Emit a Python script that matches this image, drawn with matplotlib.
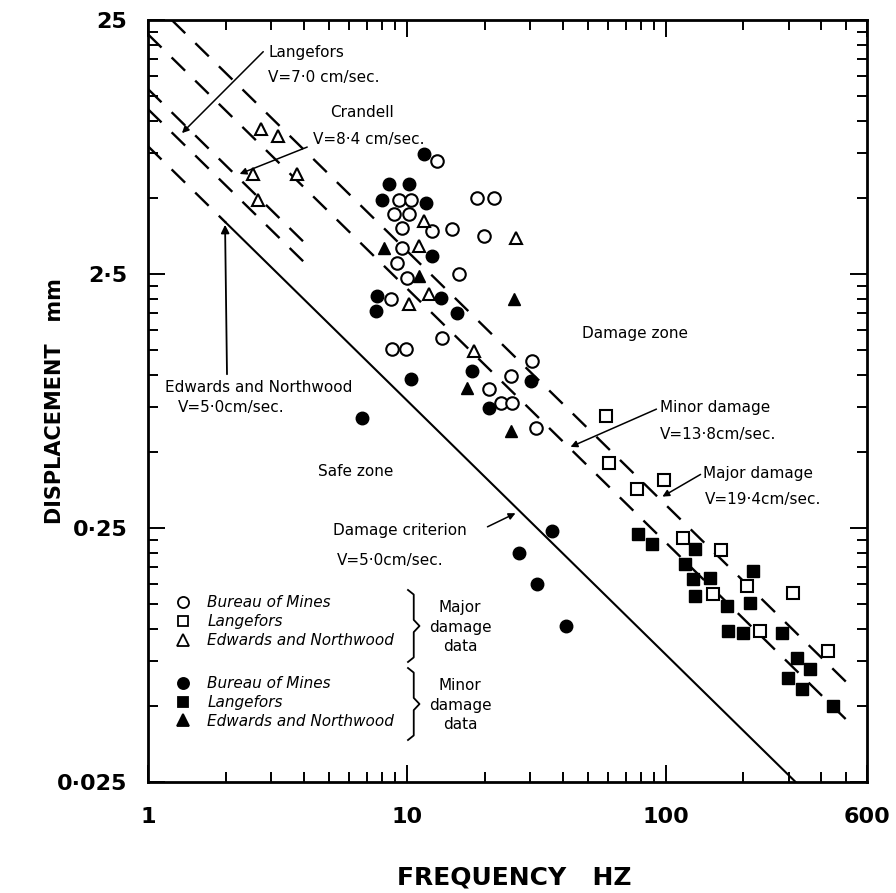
import matplotlib
matplotlib.use("Agg")
import matplotlib.pyplot as plt
from matplotlib.ticker import FixedLocator, FixedFormatter, NullFormatter
from matplotlib.lines import Line2D

# Major damage data (open symbols)
bom_major_f = [13.07, 9.31, 10.36, 18.68, 21.74, 8.91, 10.18, 9.56, 12.50, 14.94, 19.88,
               9.56, 9.15, 10.0, 15.90, 8.67, 13.67, 8.75, 9.91, 25.30, 30.52, 20.79,
               23.13, 25.53, 31.62]
bom_major_d = [6.96, 4.89, 4.89, 4.98, 4.98, 4.31, 4.31, 3.79, 3.69, 3.76, 3.53,
               3.16, 2.76, 2.41, 2.50, 1.99, 1.40, 1.27, 1.27, 0.99, 1.14, 0.881,
               0.776, 0.776, 0.619]
lang_major_f = [59.06, 60.66, 77.2, 98.2, 116.4, 163.4, 152.1, 206.1, 310.6, 231.4, 424.6]
lang_major_d = [0.690, 0.451, 0.356, 0.386, 0.228, 0.205, 0.137, 0.148, 0.139, 0.0983, 0.0820]
en_major_f = [2.74, 3.19, 2.55, 3.75, 2.67, 11.64, 11.13, 26.45, 12.17, 10.18, 18.19]
en_major_d = [9.31, 8.74, 6.19, 6.19, 4.89, 4.04, 3.22, 3.46, 2.09, 1.91, 1.24]

# Minor damage data (filled symbols)
bom_minor_f = [11.64, 8.52, 10.18, 8.00, 11.85, 12.50, 7.65, 7.58, 13.55, 15.62, 10.36,
               17.86, 20.79, 30.25, 6.69, 36.48, 27.17, 31.91, 41.34]
bom_minor_d = [7.42, 5.65, 5.65, 4.89, 4.76, 2.94, 2.05, 1.79, 2.02, 1.76, 0.965,
               1.04, 0.742, 0.948, 0.678, 0.243, 0.199, 0.150, 0.103]
lang_minor_f = [77.9, 88.3, 129.6, 118.5, 217.4, 127.3, 148.1, 129.6, 211.7, 172.4,
                174.0, 198.8, 281.6, 322.0, 361.5, 297.1, 336.6, 444.0]
lang_minor_d = [0.237, 0.216, 0.207, 0.180, 0.169, 0.157, 0.159, 0.135, 0.127, 0.123,
                0.0983, 0.0965, 0.0965, 0.0770, 0.0697, 0.0642, 0.0581, 0.0498]
en_minor_f = [8.15, 11.13, 25.98, 17.08, 25.30]
en_minor_d = [3.16, 2.45, 1.99, 0.889, 0.602]

# velocity lines (end points)
major_line_f = [1.235, 507]
major_line_d = [25.0, 0.0609]
minor_line_f = [1.0, 541]
minor_line_d = [21.96, 0.0406]
crandell_f = [1.0, 4.0]
crandell_d = [13.37, 3.34]
langefors_f = [1.0, 4.0]
langefors_d = [11.14, 2.79]
edwards_f = [1.0, 2.0]
edwards_d = [7.96, 3.98]
criterion_f = [2.0, 318]
criterion_d = [3.98, 0.025]

x_ticks = [1, 10, 100, 600]
x_ticklabels = ["1", "10", "100", "600"]
y_ticks = [0.025, 0.25, 2.5, 25]
y_ticklabels = ["0·025", "0·25", "2·5", "25"]

fig = plt.figure(figsize=(8.96, 8.93), dpi=100)
ax = fig.add_axes([0.1652, 0.1243, 0.8024, 0.8533])
ax.set_xscale("log")
ax.set_yscale("log")
ax.set_xlim(1, 600)
ax.set_ylim(0.025, 25)

dash = (0, (8, 6))
for fx, dy in [(major_line_f, major_line_d), (minor_line_f, minor_line_d),
               (crandell_f, crandell_d), (langefors_f, langefors_d),
               (edwards_f, edwards_d)]:
    ax.plot(fx, dy, color="black", lw=1.7, linestyle=dash)
ax.plot(criterion_f, criterion_d, color="black", lw=1.5)

ms = 9
ax.plot(bom_major_f, bom_major_d, "o", ms=ms, mfc="white", mec="black", mew=1.5, ls="none")
ax.plot(lang_major_f, lang_major_d, "s", ms=8, mfc="white", mec="black", mew=1.5, ls="none")
ax.plot(en_major_f, en_major_d, "^", ms=ms, mfc="white", mec="black", mew=1.5, ls="none")
ax.plot(bom_minor_f, bom_minor_d, "o", ms=ms, color="black", ls="none")
ax.plot(lang_minor_f, lang_minor_d, "s", ms=8, color="black", ls="none")
ax.plot(en_minor_f, en_minor_d, "^", ms=ms, color="black", ls="none")

# ticks
ax.xaxis.set_major_locator(FixedLocator(x_ticks))
ax.xaxis.set_major_formatter(FixedFormatter(x_ticklabels))
ax.xaxis.set_minor_locator(FixedLocator([2, 3, 4, 5, 6, 7, 8, 9, 20, 30, 40, 50, 60, 70, 80, 90,
                                         200, 300, 400, 500]))
ax.xaxis.set_minor_formatter(NullFormatter())
ax.yaxis.set_major_locator(FixedLocator(y_ticks))
ax.yaxis.set_major_formatter(FixedFormatter(y_ticklabels))
subs = [0.5, 0.75, 1.0, 1.25, 1.5, 1.75, 2.0, 2.25]
ax.yaxis.set_minor_locator(FixedLocator([s * 10.0 ** e for e in (-2, -1, 0, 1) for s in subs]))
ax.yaxis.set_minor_formatter(NullFormatter())
ax.tick_params(which="both", direction="in", top=True, right=True, width=1.4)
ax.tick_params(which="major", length=12, labelsize=16)
ax.tick_params(axis="x", which="major", pad=18)
ax.tick_params(axis="y", which="major", pad=15)
ax.tick_params(which="minor", length=7)
for lab in ax.get_xticklabels() + ax.get_yticklabels():
    lab.set_fontweight("bold")
for sp in ax.spines.values():
    sp.set_linewidth(2)

ax.set_xlabel("FREQUENCY   HZ", fontsize=18, fontweight="bold")
ax.xaxis.set_label_coords(0.51, -0.125)
ax.xaxis.label.set_va("center")
ax.set_ylabel("DISPLACEMENT   mm", fontsize=15, fontweight="bold")
ax.yaxis.set_label_coords(-0.115, 0.5)

# annotations
fs = 11
af = "axes fraction"
ax.text(0.167, 0.957, "Langefors", fontsize=fs, transform=ax.transAxes, va="center")
ax.text(0.167, 0.925, "V=7·0 cm/sec.", fontsize=fs, transform=ax.transAxes, va="center")
ax.annotate("", xy=(0.0445, 0.849), xytext=(0.163, 0.961), xycoords=af, textcoords=af,
            arrowprops=dict(arrowstyle="-|>", color="black", lw=1.1, mutation_scale=10))
ax.text(0.253, 0.879, "Crandell", fontsize=fs, transform=ax.transAxes, va="center")
ax.text(0.229, 0.843, "V=8·4 cm/sec.", fontsize=fs, transform=ax.transAxes, va="center")
ax.annotate("", xy=(0.1238, 0.7966), xytext=(0.225, 0.8346), xycoords=af, textcoords=af,
            arrowprops=dict(arrowstyle="-|>", color="black", lw=1.1, mutation_scale=10))
ax.text(0.0236, 0.518, "Edwards and Northwood", fontsize=fs, transform=ax.transAxes, va="center")
ax.text(0.0417, 0.492, "V=5·0cm/sec.", fontsize=fs, transform=ax.transAxes, va="center")
ax.annotate("", xy=(0.1071, 0.7349), xytext=(0.1099, 0.5315), xycoords=af, textcoords=af,
            arrowprops=dict(arrowstyle="-|>", color="black", lw=1.3, mutation_scale=12))
ax.text(0.2893, 0.408, "Safe zone", fontsize=fs, transform=ax.transAxes, va="center", ha="center")
ax.text(0.2573, 0.3307, "Damage criterion", fontsize=fs, transform=ax.transAxes, va="center")
ax.text(0.2629, 0.2913, "V=5·0cm/sec.", fontsize=fs, transform=ax.transAxes, va="center")
ax.annotate("", xy=(0.5146, 0.3543), xytext=(0.4687, 0.3333), xycoords=af, textcoords=af,
            arrowprops=dict(arrowstyle="-|>", color="black", lw=1.1, mutation_scale=10))
ax.text(0.6773, 0.5892, "Damage zone", fontsize=fs, transform=ax.transAxes, va="center", ha="center")
ax.text(0.7121, 0.4921, "Minor damage", fontsize=fs, transform=ax.transAxes, va="center")
ax.text(0.7121, 0.4554, "V=13·8cm/sec.", fontsize=fs, transform=ax.transAxes, va="center")
ax.annotate("", xy=(0.5841, 0.4383), xytext=(0.7107, 0.4908), xycoords=af, textcoords=af,
            arrowprops=dict(arrowstyle="-|>", color="black", lw=1.1, mutation_scale=10))
ax.text(0.7719, 0.4055, "Major damage", fontsize=fs, transform=ax.transAxes, va="center")
ax.text(0.7747, 0.3701, "V=19·4cm/sec.", fontsize=fs, transform=ax.transAxes, va="center")
ax.annotate("", xy=(0.7121, 0.3727), xytext=(0.7719, 0.4055), xycoords=af, textcoords=af,
            arrowprops=dict(arrowstyle="-|>", color="black", lw=1.1, mutation_scale=10))

# legend (two groups)
def handles(filled):
    fc = "black" if filled else "white"
    return [Line2D([], [], marker="o", ls="none", ms=8, mfc=fc, mec="black", mew=1.3),
            Line2D([], [], marker="s", ls="none", ms=7, mfc=fc, mec="black", mew=1.3),
            Line2D([], [], marker="^", ls="none", ms=8, mfc=fc, mec="black", mew=1.3)]

names = ["Bureau of Mines", "Langefors", "Edwards and Northwood"]
leg_kw = dict(frameon=False, handlelength=1.0, handletextpad=1.1,
              labelspacing=0.25, borderpad=0, borderaxespad=0, loc="upper left",
              prop=dict(size=fs, style="italic"))
leg1 = ax.legend(handles(False), names, bbox_to_anchor=(0.038, 0.245), **leg_kw)
ax.add_artist(leg1)
leg2 = ax.legend(handles(True), names, bbox_to_anchor=(0.038, 0.139), **leg_kw)

def brace(x0, top, bottom, w=0.008):
    mid = (top + bottom) / 2
    xs = [x0, x0 + w, x0 + w, x0 + 2 * w, x0 + w, x0 + w, x0]
    ys = [top, top - 0.006, mid + 0.008, mid, mid - 0.008, bottom + 0.006, bottom]
    ax.plot(xs, ys, color="black", lw=1.3, transform=ax.transAxes, clip_on=False)

brace(0.3616, 0.252, 0.1575)
brace(0.3616, 0.1496, 0.0551)
ax.text(0.434, 0.2034, "Major\ndamage\ndata", fontsize=fs, ha="center", va="center",
        transform=ax.transAxes, linespacing=1.35)
ax.text(0.434, 0.101, "Minor\ndamage\ndata", fontsize=fs, ha="center", va="center",
        transform=ax.transAxes, linespacing=1.35)

fig.savefig("out.png", dpi=100)
